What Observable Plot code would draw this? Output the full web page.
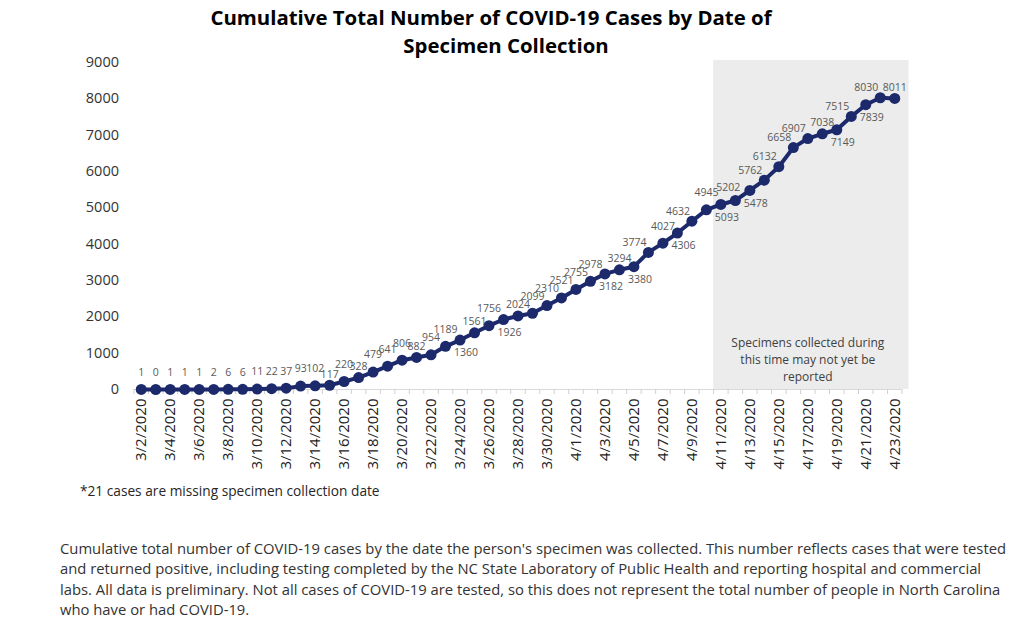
<!DOCTYPE html>
<html><head><meta charset="utf-8">
<script src="https://cdn.jsdelivr.net/npm/d3@7"></script>
<script src="https://cdn.jsdelivr.net/npm/@observablehq/plot@0.6"></script>
<style>
body{margin:0;background:#fff;font-family:"Open Sans",sans-serif;}
#wrap{position:relative;width:1024px;height:632px;overflow:hidden;background:#fff}
.t{position:absolute;font-weight:700;font-size:20.4px;color:#000;white-space:nowrap;transform:translate(-50%,-50%);line-height:1}
#chart{position:absolute;left:0;top:50px}
#note{position:absolute;left:80px;top:481px;font-size:13.7px;color:#262626;white-space:nowrap}
#desc{position:absolute;left:60px;top:538px;font-size:14.8px;line-height:20.4px;color:#333;white-space:nowrap}
</style></head>
<body>
<div id="wrap">
  <div class="t" style="left:491px;top:17px">Cumulative Total Number of COVID-19 Cases by Date of</div>
  <div class="t" style="left:506px;top:45px">Specimen Collection</div>
  <div id="chart"></div>
  <div id="note">*21 cases are missing specimen collection date</div>
  <div id="desc">Cumulative total number of COVID-19 cases by the date the person's specimen was collected. This number reflects cases that were tested<br>and returned positive, including testing completed by the NC State Laboratory of Public Health and reporting hospital and commercial<br>labs. All data is preliminary. Not all cases of COVID-19 are tested, so this does not represent the total number of people in North Carolina<br>who have or had COVID-19.</div>
</div>
<script>
const dates = ["3/2/2020","3/3/2020","3/4/2020","3/5/2020","3/6/2020","3/7/2020","3/8/2020","3/9/2020","3/10/2020","3/11/2020",
  "3/12/2020","3/13/2020","3/14/2020","3/15/2020","3/16/2020","3/17/2020","3/18/2020","3/19/2020","3/20/2020","3/21/2020",
  "3/22/2020","3/23/2020","3/24/2020","3/25/2020","3/26/2020","3/27/2020","3/28/2020","3/29/2020","3/30/2020","3/31/2020",
  "4/1/2020","4/2/2020","4/3/2020","4/4/2020","4/5/2020","4/6/2020","4/7/2020","4/8/2020","4/9/2020","4/10/2020",
  "4/11/2020","4/12/2020","4/13/2020","4/14/2020","4/15/2020","4/16/2020","4/17/2020","4/18/2020","4/19/2020","4/20/2020",
  "4/21/2020","4/22/2020","4/23/2020"];
const cases = [1,0,1,1,1,2,6,6,11,22,
  37,93,102,117,220,328,479,641,806,882,
  954,1189,1360,1561,1756,1926,2024,2099,2310,2521,
  2755,2978,3182,3294,3380,3774,4027,4306,4632,4945,
  5093,5202,5478,5762,6132,6658,6907,7038,7149,7515,
  7839,8030,8011];
const yTicks = [0,1000,2000,3000,4000,5000,6000,7000,8000,9000];
const tickLabelDates = dates.filter((d,i)=>i%2===0);
const pendingStart = "4/11/2020";
const annotation = "Specimens collected during\nthis time may not yet be\nreported";
// label placement groups (by date)
const belowLabels = ["3/24/2020","3/27/2020","4/3/2020","4/5/2020","4/8/2020","4/11/2020","4/13/2020","4/19/2020","4/21/2020"];
const leftLabels = ["4/6/2020","4/9/2020","4/14/2020","4/15/2020","4/16/2020","4/17/2020","4/20/2020","4/22/2020"];
const nearLabels = ["3/15/2020","3/17/2020","3/21/2020","3/25/2020","3/28/2020","4/4/2020","4/18/2020","4/23/2020"];
const slightLeftLabels = ["4/12/2020"];

const data = dates.map((d,i)=>({i, date:d, value:cases[i]}));
const n = dates.length;
const s0 = dates.indexOf(pendingStart);
const group = d => belowLabels.includes(d.date) ? "below" : leftLabels.includes(d.date) ? "left" : nearLabels.includes(d.date) ? "near" : slightLeftLabels.includes(d.date) ? "slight" : "above";
const navy = "#1c2a6c";
const lab = {x:"i", y:"value", text:d=>String(d.value), fontSize:10.5, fill:"#595959", fontFamily:"Open Sans"};
const bounds = d3.range(n+1).map(k=>k-0.5);

const chart = Plot.plot({
  width:1024, height:428,
  marginLeft:133.5, marginRight:1024-901.5, marginTop:12, marginBottom:89,
  x:{type:"linear", domain:[-0.5, n-0.5]},
  y:{domain:[0,9000]},
  style:{fontFamily:"Open Sans", background:"transparent"},
  marks:[
    Plot.rect([{x1:s0-0.5, x2:n-0.5}], {x1:"x1", x2:"x2", y1:0, y2:9000, fill:"#ececec", insetTop:-2, insetRight:-7}),
    Plot.ruleY([0], {stroke:"#d9d9d9", strokeWidth:1.2}),
    Plot.axisY({ticks:yTicks, tickFormat:d=>String(d), tickSize:0, tickPadding:15, fontSize:14.5, fill:"#333", label:null}),
    Plot.axisX({ticks:bounds, tickSize:5, tickFormat:()=>"", stroke:"#d0d0d0", label:null}),
    Plot.axisX({ticks:tickLabelDates.map(d=>dates.indexOf(d)), tickFormat:i=>dates[i], tickRotate:-90, tickSize:0, tickPadding:9, fontSize:15, fill:"#222", label:null}),
    Plot.line(data, {x:"i", y:"value", stroke:navy, strokeWidth:4}),
    Plot.dot(data, {x:"i", y:"value", r:5.5, fill:navy}),
    Plot.text(data.filter(d=>group(d)==="above"), {...lab, dy:-17}),
    Plot.text(data.filter(d=>group(d)==="near"), {...lab, dy:-11}),
    Plot.text(data.filter(d=>group(d)==="slight"), {...lab, dx:-7, dy:-13}),
    Plot.text(data.filter(d=>group(d)==="left"), {...lab, dx:-14, dy:-10}),
    Plot.text(data.filter(d=>group(d)==="below"), {...lab, dx:6, dy:13}),
    Plot.text([annotation], {x:(s0-0.5+n-0.5)/2, y:0, text:d=>d, dy:-31, lineAnchor:"middle", lineHeight:1.4, fontSize:12, fill:"#404040"})
  ]
});
document.getElementById("chart").append(chart);
</script>
</body></html>
